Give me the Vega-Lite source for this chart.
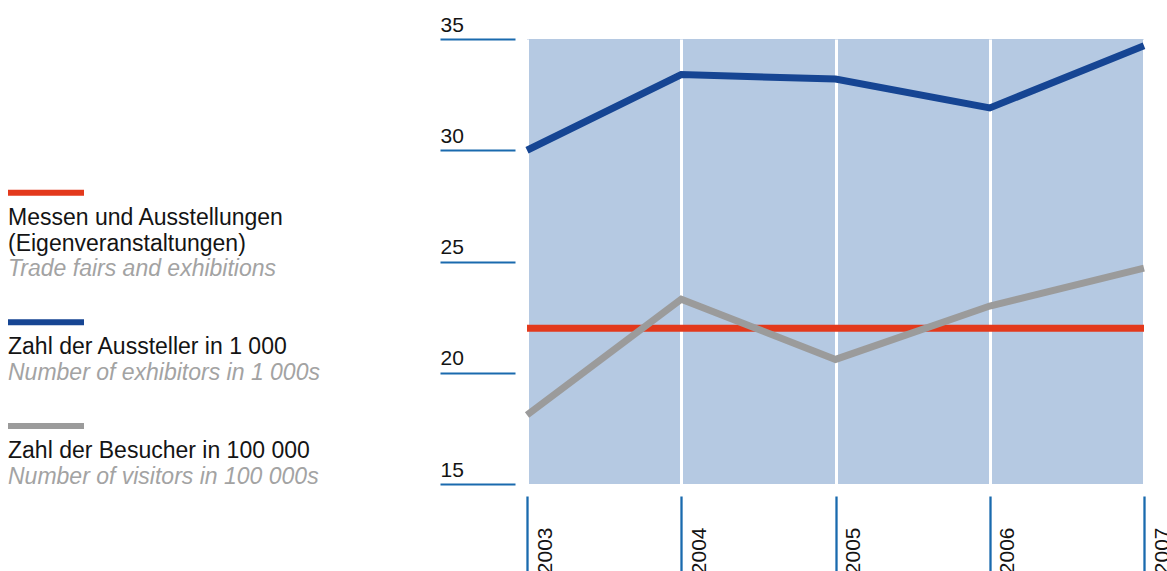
{
  "$schema": "https://vega.github.io/schema/vega-lite/v6.json",
  "padding": {"left": 8, "top": 14, "right": 0, "bottom": 0},
  "background": "white",
  "spacing": 219,
  "bounds": "flush",
  "config": {"font": "Liberation Sans", "view": {"stroke": null}},
  "datasets": {
    "series": [
      {"year": 2003, "series": "fairs", "value": 22.0},
      {"year": 2004, "series": "fairs", "value": 22.0},
      {"year": 2005, "series": "fairs", "value": 22.0},
      {"year": 2006, "series": "fairs", "value": 22.0},
      {"year": 2007, "series": "fairs", "value": 22.0},
      {"year": 2003, "series": "exhibitors", "value": 30.0},
      {"year": 2004, "series": "exhibitors", "value": 33.4},
      {"year": 2005, "series": "exhibitors", "value": 33.2},
      {"year": 2006, "series": "exhibitors", "value": 31.9},
      {"year": 2007, "series": "exhibitors", "value": 34.7},
      {"year": 2003, "series": "visitors", "value": 18.1},
      {"year": 2004, "series": "visitors", "value": 23.3},
      {"year": 2005, "series": "visitors", "value": 20.6},
      {"year": 2006, "series": "visitors", "value": 23.0},
      {"year": 2007, "series": "visitors", "value": 24.7}
    ],
    "legend": [
      {"kind": "swatch", "series": "fairs", "pos": 0},
      {"kind": "de", "pos": 1, "text": "Messen und Ausstellungen"},
      {"kind": "de", "pos": 2, "text": "(Eigenveranstaltungen)"},
      {"kind": "en", "pos": 3, "text": "Trade fairs and exhibitions"},
      {"kind": "swatch", "series": "exhibitors", "pos": 5},
      {"kind": "de", "pos": 6, "text": "Zahl der Aussteller in 1 000"},
      {"kind": "en", "pos": 7, "text": "Number of exhibitors in 1 000s"},
      {"kind": "swatch", "series": "visitors", "pos": 9},
      {"kind": "de", "pos": 10, "text": "Zahl der Besucher in 100 000"},
      {"kind": "en", "pos": 11, "text": "Number of visitors in 100 000s"}
    ]
  },
  "hconcat": [
    {
      "width": 300,
      "height": 445,
      "data": {"name": "legend"},
      "view": {"stroke": null},
      "layer": [
        {
          "transform": [{"filter": "datum.kind === 'swatch'"}],
          "mark": {"type": "tick", "orient": "horizontal", "size": 76, "thickness": 6, "xOffset": 38, "opacity": 1},
          "encoding": {
            "x": {"datum": 0, "type": "quantitative", "scale": {"domain": [0, 1]}, "axis": null},
            "y": {"field": "pos", "type": "quantitative", "scale": {"domain": [-5.93, 11.24], "reverse": true, "nice": false, "zero": false}, "axis": null},
            "color": {"field": "series", "type": "nominal", "scale": {"domain": ["fairs", "exhibitors", "visitors"], "range": ["#e3391c", "#164593", "#9b9b9b"]}, "legend": null}
          }
        },
        {
          "transform": [{"filter": "datum.kind === 'de'"}],
          "mark": {"type": "text", "align": "left", "baseline": "alphabetic", "dy": 6, "fontSize": 23, "color": "#141414"},
          "encoding": {
            "x": {"datum": 0, "type": "quantitative"},
            "y": {"field": "pos", "type": "quantitative"},
            "text": {"field": "text"}
          }
        },
        {
          "transform": [{"filter": "datum.kind === 'en'"}],
          "mark": {"type": "text", "align": "left", "baseline": "alphabetic", "dy": 6, "fontSize": 23, "fontStyle": "italic", "color": "#a3a3a3"},
          "encoding": {
            "x": {"datum": 0, "type": "quantitative"},
            "y": {"field": "pos", "type": "quantitative"},
            "text": {"field": "text"}
          }
        }
      ]
    },
    {
      "width": 617,
      "height": 445,
      "data": {"name": "series"},
      "view": {"fill": "#b5c9e2", "stroke": null},
      "mark": {"type": "line", "strokeWidth": 7, "clip": false},
      "encoding": {
        "x": {
          "field": "year", "type": "quantitative",
          "scale": {"domain": [2003, 2007], "nice": false, "zero": false},
          "axis": {
            "values": [2003, 2004, 2005, 2006, 2007], "format": "d", "title": null,
            "domain": false, "grid": true, "gridColor": "#ffffff", "gridWidth": 3,
            "ticks": true, "tickColor": "#1a6aae", "tickWidth": 2.3, "tickSize": 90, "offset": 12,
            "labelAngle": 270, "labelAlign": "right", "labelBaseline": "top",
            "labelPadding": -59, "labelOffset": 7, "labelFontSize": 21, "labelColor": "#141414",
            "labelFlush": false, "labelOverlap": false, "labelBound": false
          }
        },
        "y": {
          "field": "value", "type": "quantitative",
          "scale": {"domain": [15, 35], "nice": false, "zero": false},
          "axis": {
            "values": [15, 20, 25, 30, 35], "title": null,
            "domain": false, "grid": false,
            "ticks": true, "tickColor": "#1a6aae", "tickWidth": 2, "tickSize": 75, "offset": 12,
            "labelAlign": "left", "labelBaseline": "alphabetic", "labelPadding": 0, "labelOffset": -8,
            "labelFontSize": 21, "labelColor": "#141414",
            "labelFlush": false, "labelOverlap": false, "labelBound": false
          }
        },
        "color": {"field": "series", "type": "nominal", "scale": {"domain": ["fairs", "exhibitors", "visitors"], "range": ["#e3391c", "#164593", "#9b9b9b"]}, "legend": null}
      }
    }
  ]
}
